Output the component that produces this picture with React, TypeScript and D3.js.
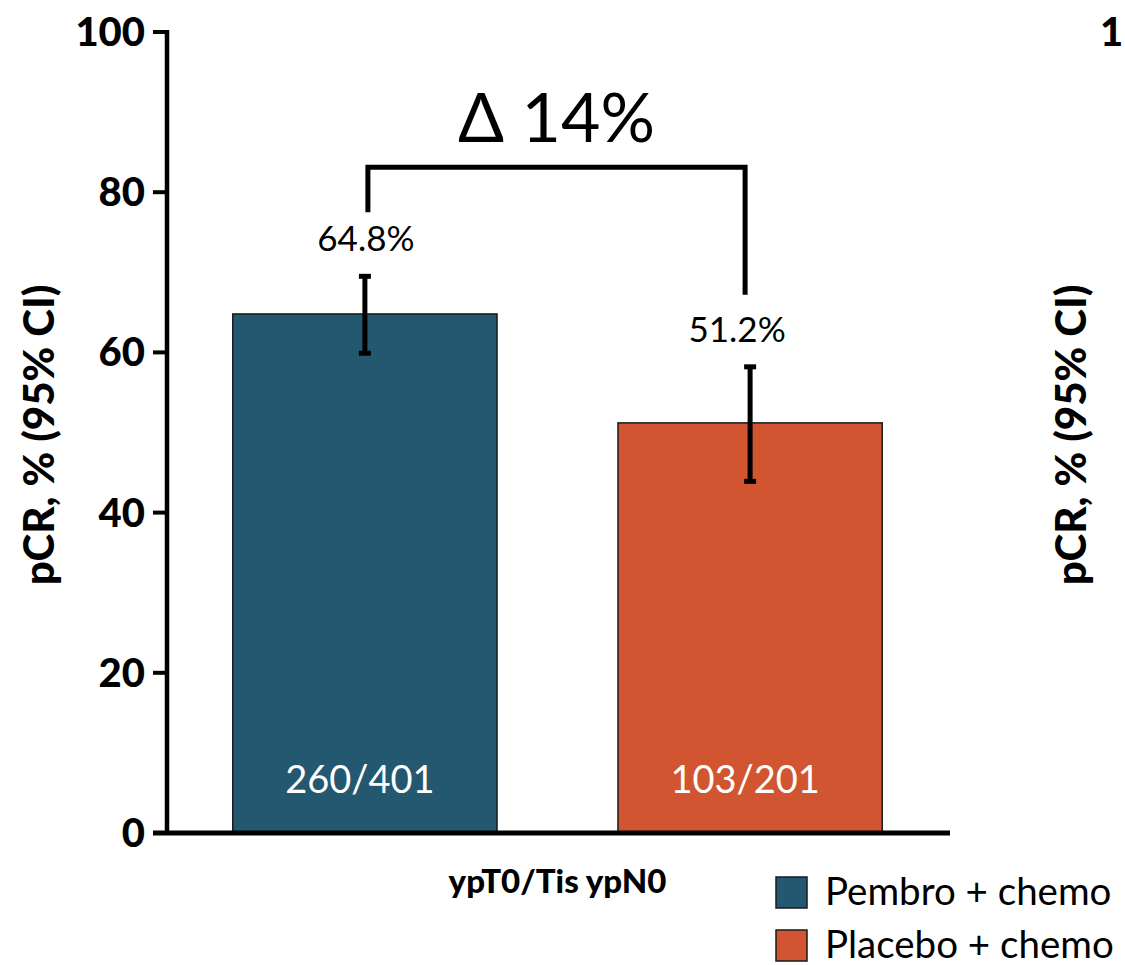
import React from "react";
import * as d3 from "d3";

const groups = ["Pembro + chemo", "Placebo + chemo"];
const pcrValues = [64.8, 51.2];
const ciLow = [59.9, 43.9];
const ciHigh = [69.5, 58.2];
const counts = ["260/401", "103/201"];
const barColors = ["#245870", "#D05530"];
const yTicks = [0, 20, 40, 60, 80, 100];
const categoryLabel = "ypT0/Tis ypN0";
const deltaLabel = "\u0394 14%";
const yTitle = "pCR, % (95% CI)";

const W = 1125;
const H = 965;
const FONT = "Lato, 'Open Sans', 'DejaVu Sans', sans-serif";

export default function App() {
  const y = d3.scaleLinear().domain([0, 100]).range([833, 32]);
  const x = d3
    .scaleBand<string>()
    .domain(groups)
    .range([175, 940])
    .paddingInner(0.314)
    .paddingOuter(0.15);
  const bw = x.bandwidth();
  const cx = (g: string) => (x(g) as number) + bw / 2;

  // comparison bracket above the two bars
  const bracketTop = y(83.1);
  const legL = cx(groups[0]) + 3;
  const legR = cx(groups[1]) - 5;
  const legEndL = y(ciHigh[0]) - 64;
  const legEndR = y(ciHigh[1]) - 72;

  return (
    <svg
      width={W}
      height={H}
      style={{ position: "absolute", left: 0, top: 0, background: "#fff" }}
      fontFamily={FONT}
    >
      {/* y axis */}
      <line x1={167} x2={167} y1={y(100) - 2} y2={y(0) + 2} stroke="#000" strokeWidth={4.5} />
      {yTicks.map((t) => (
        <g key={t}>
          <line x1={153} x2={167} y1={y(t)} y2={y(t)} stroke="#000" strokeWidth={4} />
          <text x={145} y={y(t) + 14} textAnchor="end" fontSize={40} fontWeight={900}>
            {t}
          </text>
        </g>
      ))}
      <text
        transform={`translate(54, 435) rotate(-90)`}
        textAnchor="middle"
        fontSize={42}
        fontWeight={900}
      >
        {yTitle}
      </text>

      {/* bars */}
      {groups.map((g, i) => (
        <g key={g}>
          <rect
            x={x(g)}
            y={y(pcrValues[i])}
            width={bw}
            height={y(0) - y(pcrValues[i])}
            fill={barColors[i]}
            stroke="#1a1a1a"
            strokeWidth={1.5}
          />
          <text
            x={cx(g) - 5}
            y={793}
            textAnchor="middle"
            fontSize={38}
            fill="#fff"
          >
            {counts[i]}
          </text>
        </g>
      ))}

      {/* x axis */}
      <line x1={153} x2={950} y1={y(0)} y2={y(0)} stroke="#000" strokeWidth={5} />

      {/* error bars */}
      {groups.map((g, i) => (
        <g key={g + "-ci"} stroke="#000">
          <line x1={cx(g)} x2={cx(g)} y1={y(ciHigh[i])} y2={y(ciLow[i])} strokeWidth={5} />
          <line x1={cx(g) - 6} x2={cx(g) + 6} y1={y(ciHigh[i])} y2={y(ciHigh[i])} strokeWidth={5} />
          <line x1={cx(g) - 6} x2={cx(g) + 6} y1={y(ciLow[i])} y2={y(ciLow[i])} strokeWidth={5} />
        </g>
      ))}

      {/* value labels */}
      {groups.map((g, i) => (
        <text
          key={g + "-val"}
          x={cx(g) + (i === 1 ? -13 : 1)}
          y={y(ciHigh[i]) - 25}
          textAnchor="middle"
          fontSize={35}
        >
          {`${pcrValues[i].toFixed(1)}%`}
        </text>
      ))}

      {/* bracket */}
      <path
        d={`M${legL},${legEndL}V${bracketTop}H${legR}V${legEndR}`}
        fill="none"
        stroke="#000"
        strokeWidth={5}
      />
      <text x={(legL + legR) / 2} y={142} textAnchor="middle" fontSize={68}>
        {deltaLabel}
      </text>

      {/* category label */}
      <text
        x={(cx(groups[0]) + cx(groups[1])) / 2}
        y={893}
        textAnchor="middle"
        fontSize={33}
        fontWeight={900}
      >
        {categoryLabel}
      </text>

      {/* legend */}
      {groups.map((g, i) => (
        <g key={g + "-leg"} transform={`translate(776, ${877 + i * 53})`}>
          <rect x={0} y={0} width={31} height={31} fill={barColors[i]} stroke="#1a1a1a" strokeWidth={1.5} />
          <text x={49} y={28} fontSize={38.5}>
            {g}
          </text>
        </g>
      ))}

      {/* neighbouring panel, its first tick digit and axis title at the right edge */}
      <text x={1100} y={y(100) + 14} fontSize={40} fontWeight={900}>
        1
      </text>
      <text
        transform={`translate(1086, 435) rotate(-90)`}
        textAnchor="middle"
        fontSize={42}
        fontWeight={900}
      >
        {yTitle}
      </text>
    </svg>
  );
}
